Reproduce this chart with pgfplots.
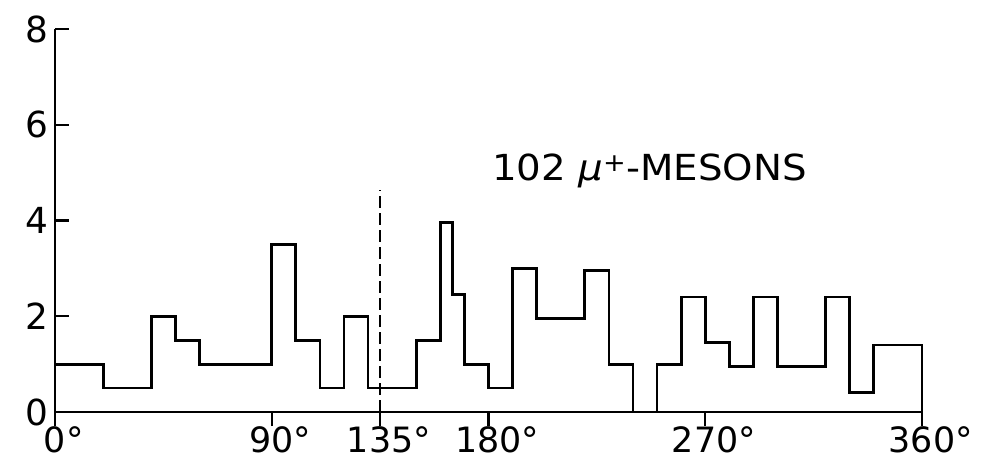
\documentclass[border=0pt]{standalone}
\usepackage{fontspec}
\setmainfont{DejaVu Sans}
\usepackage{pgfplots}
\pgfplotsset{compat=1.18}
\begin{document}
\begin{tikzpicture}
\begin{axis}[
  at={(0,0)}, anchor=south west,
  scale only axis, width=867bp, height=383bp,
  xmin=0, xmax=360, ymin=0, ymax=8,
  axis lines=left,
  axis line style={-, line width=2.6bp},
  xtick={0,90,135,180,270,360},
  xticklabels={0\rlap{°},90\rlap{°},135\rlap{°},180\rlap{°},270\rlap{°},360\rlap{°}},
  ytick={0,2,4,6,8},
  yticklabels={0,2,4,6,8},
  xtick align=outside,
  ytick align=inside,
  major tick length=14bp,
  tick style={line width=2.4bp, black},
  tick label style={font=\fontsize{36}{40}\selectfont},
  xticklabel style={font=\fontsize{35}{38}\selectfont, inner sep=0bp, yshift=0bp},
  yticklabel style={xshift=-3bp},
  clip=false,
]
\addplot[const plot mark left, line width=2.8bp, black] coordinates {
(0,0) (0,1) (20,0.5) (40,2) (50,1.5) (60,1) (90,3.5) (100,1.5) (110,0.5)
(120,2) (130,0.5) (150,1.5) (160,3.95) (165,2.45) (170,1) (180,0.5)
(190,3) (200,1.95) (220,2.95) (230,1) (240,0) (250,1) (260,2.4)
(270,1.45) (280,0.95) (290,2.4) (300,0.95) (320,2.4) (330,0.4)
(340,1.4) (360,1.4) (360,0)
};
\addplot[black, line width=2bp, dash pattern=on 12bp off 5bp] coordinates {(135,0) (135,4.63)};
\node[anchor=base west, inner sep=0pt, font=\fontsize{36}{40}\selectfont] at (axis cs:181.5,4.84)
  {\scalebox{1.08}[1]{102 {\itshape μ}\textsuperscript{+}-MESONS}};
\end{axis}
\pgfresetboundingbox
\path[use as bounding box] (-55bp,-51bp) rectangle (937bp,412bp);
\end{tikzpicture}
\end{document}
